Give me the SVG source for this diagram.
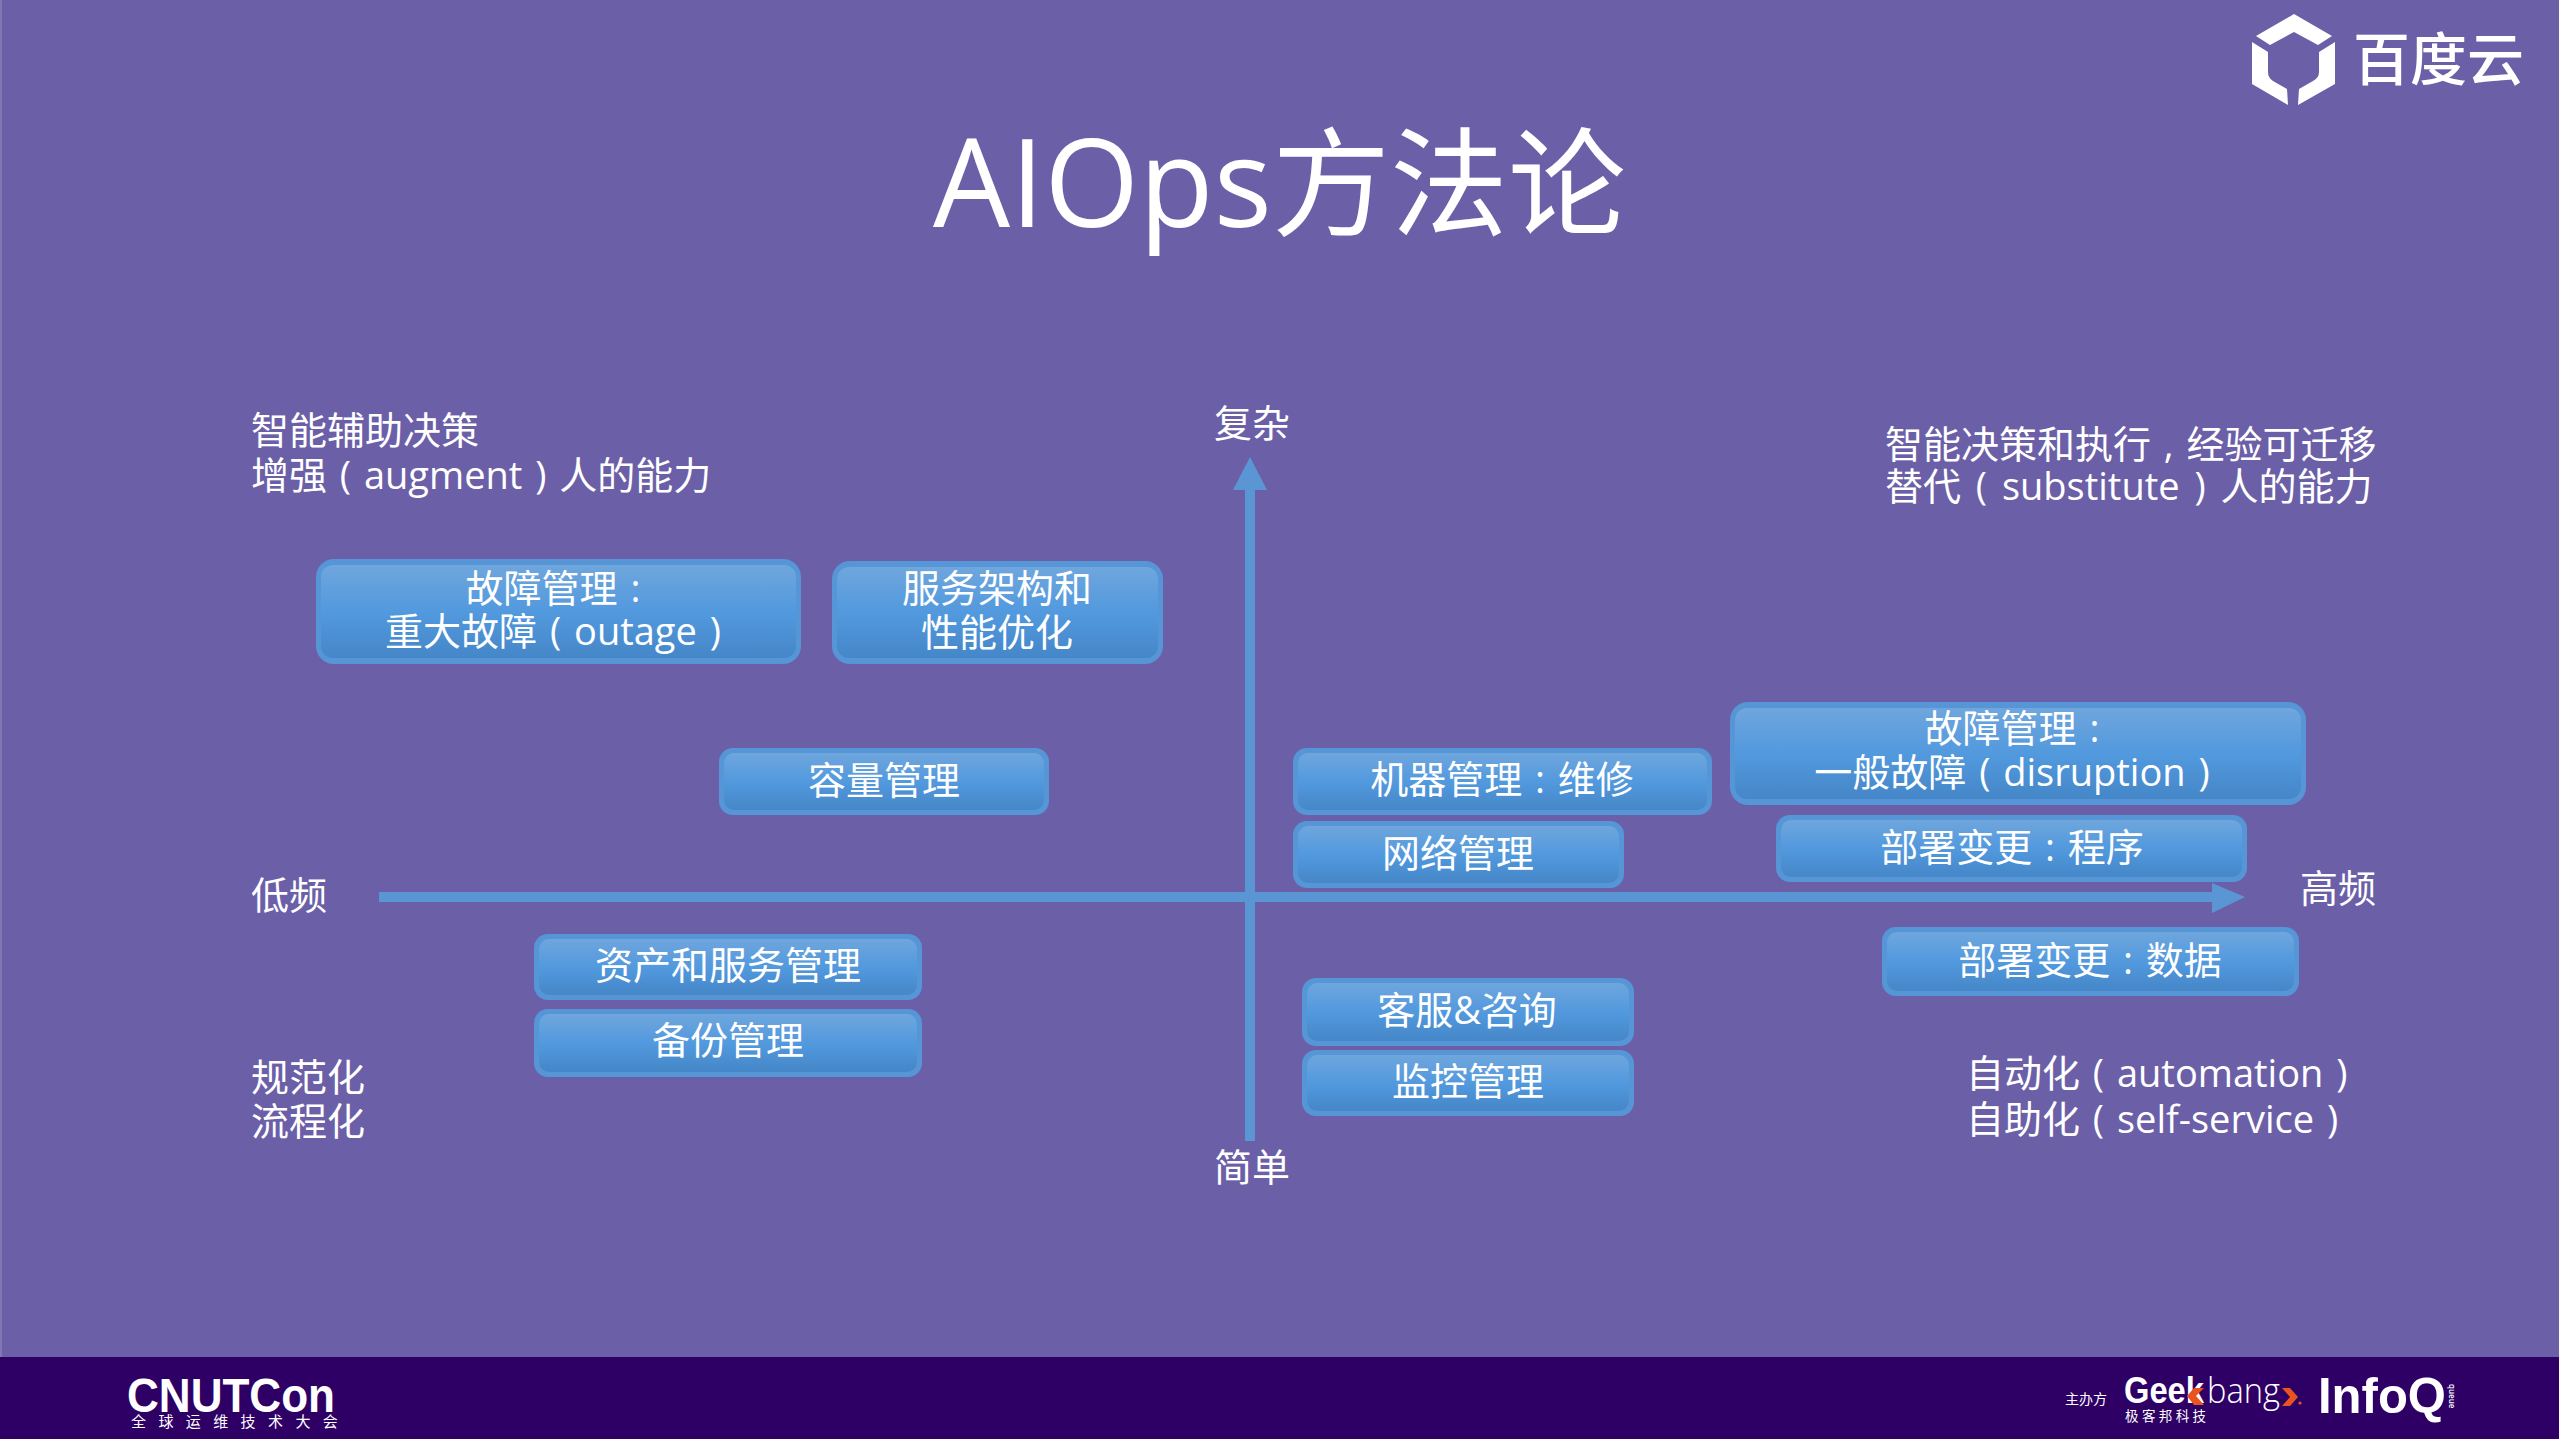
<svg xmlns="http://www.w3.org/2000/svg" width="2559" height="1439" viewBox="0 0 2559 1439">
<style>
text{font-family:"Open Sans","Noto Sans CJK SC",sans-serif;font-weight:400;fill:#fff}
.t{font-size:38px}
.l{font-size:38px;text-anchor:middle}
.w{word-spacing:3px}
.o{fill:#5695d6}
.i{fill:url(#g)}
.a{fill:#5a96d3}
.lat{font-family:"Liberation Sans",sans-serif;font-weight:700}
</style>
<defs>
<linearGradient id="g" x1="0" y1="0" x2="0" y2="1">
<stop offset="0" stop-color="#6fa6dd"/><stop offset=".5" stop-color="#5299de"/><stop offset="1" stop-color="#4587c8"/>
</linearGradient>
</defs>
<rect width="2559" height="1439" fill="#6b60a8"/>
<rect width="2" height="1358" fill="#8078b5"/>
<rect y="1357" width="2559" height="82" fill="#2e0066"/>
<text id="title" x="933" y="227" style="font-size:122px">AIOps<tspan style="font-size:118px">方法论</tspan></text>
<g id="connectors">
<rect class="a" x="379" y="892" width="1835" height="10"/>
<polygon class="a" points="2212,883 2245,897 2212,913"/>
<rect class="a" x="1245" y="488" width="10" height="653"/>
<polygon class="a" points="1250,457 1267,490 1233,490"/>
</g>
<g id="q1"><text class="t" x="251" y="444">智能辅助决策</text><text class="t w" x="251" y="489">增强 ( augment ) 人的能力</text></g>
<g id="q2"><text class="t" x="1885" y="458" style="word-spacing:3px">智能决策和执行 , 经验可迁移</text><text class="t" x="1885" y="500" style="word-spacing:5px">替代 ( substitute ) 人的能力</text></g>
<g id="q3"><text class="t" x="251" y="1091">规范化</text><text class="t" x="251" y="1135">流程化</text></g>
<g id="q4"><text class="t w" x="1966" y="1087">自动化 ( automation )</text><text class="t w" x="1966" y="1133">自助化 ( self-service )</text></g>
<g id="ax1"><text class="l" x="1252" y="437">复杂</text></g>
<g id="ax2"><text class="l" x="1252" y="1181">简单</text></g>
<g id="ax3"><text class="t" x="251" y="909">低频</text></g>
<g id="ax4"><text class="t" x="2300" y="902">高频</text></g>
<g id="n1"><rect class="o" x="316" y="559" width="485" height="105" rx="18"/><rect class="i" x="321" y="565" width="475" height="93" rx="12"/><text class="l w" x="553" y="602">故障管理 :</text><text class="l w" x="553" y="645">重大故障 ( outage )</text></g>
<g id="n2"><rect class="o" x="832" y="561" width="331" height="103" rx="18"/><rect class="i" x="837" y="567" width="321" height="91" rx="12"/><text class="l" x="997" y="602">服务架构和</text><text class="l" x="997" y="646">性能优化</text></g>
<g id="n3"><rect class="o" x="719" y="748" width="330" height="67" rx="14"/><rect class="i" x="724" y="753" width="320" height="57" rx="10"/><text class="l" x="884" y="794">容量管理</text></g>
<g id="n4"><rect class="o" x="1293" y="748" width="419" height="67" rx="14"/><rect class="i" x="1298" y="753" width="409" height="57" rx="10"/><text class="l w" x="1502" y="793">机器管理 : 维修</text></g>
<g id="n5"><rect class="o" x="1293" y="821" width="331" height="67" rx="14"/><rect class="i" x="1298" y="826" width="321" height="57" rx="10"/><text class="l" x="1458" y="867">网络管理</text></g>
<g id="n6"><rect class="o" x="1730" y="702" width="576" height="103" rx="18"/><rect class="i" x="1735" y="708" width="566" height="91" rx="12"/><text class="l w" x="2012" y="742">故障管理 :</text><text class="l w" x="2012" y="786">一般故障 ( disruption )</text></g>
<g id="n7"><rect class="o" x="1776" y="815" width="471" height="67" rx="14"/><rect class="i" x="1781" y="820" width="461" height="57" rx="10"/><text class="l w" x="2012" y="861">部署变更 : 程序</text></g>
<g id="n8"><rect class="o" x="1882" y="927" width="417" height="69" rx="14"/><rect class="i" x="1887" y="932" width="407" height="59" rx="10"/><text class="l w" x="2090" y="974">部署变更 : 数据</text></g>
<g id="n9"><rect class="o" x="534" y="934" width="388" height="66" rx="14"/><rect class="i" x="539" y="939" width="378" height="56" rx="10"/><text class="l" x="728" y="979">资产和服务管理</text></g>
<g id="n10"><rect class="o" x="534" y="1009" width="388" height="68" rx="14"/><rect class="i" x="539" y="1014" width="378" height="58" rx="10"/><text class="l" x="728" y="1054">备份管理</text></g>
<g id="n11"><rect class="o" x="1302" y="978" width="332" height="68" rx="14"/><rect class="i" x="1307" y="983" width="322" height="58" rx="10"/><text class="l" x="1467" y="1024">客服&amp;咨询</text></g>
<g id="n12"><rect class="o" x="1302" y="1050" width="332" height="66" rx="14"/><rect class="i" x="1307" y="1055" width="322" height="56" rx="10"/><text class="l" x="1468" y="1095">监控管理</text></g>
<g id="logo-baidu">
<path fill="#fff" d="M2294,14 L2332,36 L2318,45 L2294,32 L2270,45 L2256,36 Z M2252,42 L2268,52 L2268,72 Q2268,78 2273,81 L2287,89 L2288,105 L2252,84 Z M2335,42 L2335,84 L2298,105 L2299,89 L2313,81 Q2319,78 2319,72 L2319,52 Z"/>
<text x="2353" y="80" style="font-size:57px;font-weight:500">百度云</text>
</g>
<g id="logo-cnutcon">
<text class="lat" x="127" y="1412" textLength="208" lengthAdjust="spacingAndGlyphs" style="font-size:48px">CNUTCon</text>
<text x="131" y="1427" style="font-size:15px;letter-spacing:12.4px">全球运维技术大会</text>
</g>
<g id="logo-host">
<text x="2065" y="1404" style="font-size:14px">主办方</text>
<text class="lat" x="2124" y="1403" textLength="80" lengthAdjust="spacingAndGlyphs" style="font-size:36px">Geek</text>
<polygon fill="#e8531f" points="2204,1388 2194,1388 2187,1396 2194,1405 2204,1405 2196,1396"/>
<text x="2207" y="1403" textLength="73" lengthAdjust="spacingAndGlyphs" style="font-size:35px;font-weight:300">bang</text>
<polygon fill="#e8531f" points="2282,1388 2290,1388 2298,1397 2290,1406 2282,1406 2290,1397"/>
<circle cx="2300" cy="1403" r="1.6" fill="#e8531f"/>
<text x="2125" y="1421" style="font-size:13.5px;letter-spacing:3.4px">极客邦科技</text>
<text class="lat" x="2318" y="1413" textLength="128" lengthAdjust="spacingAndGlyphs" style="font-size:50px">InfoQ</text>
<text x="2449" y="1384" transform="rotate(90 2449 1384)" style="font-size:8px;font-weight:600">queue</text>
</g>
</svg>
